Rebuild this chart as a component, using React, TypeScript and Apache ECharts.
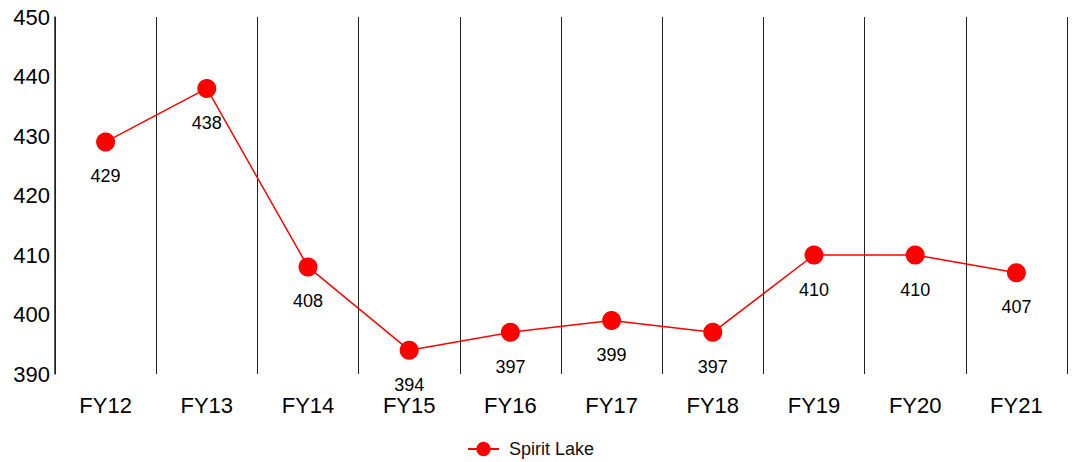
import React, { useEffect, useRef } from "react";
import * as echarts from "echarts";

const categories = ["FY12", "FY13", "FY14", "FY15", "FY16", "FY17", "FY18", "FY19", "FY20", "FY21"];
const spiritLake = [429, 438, 408, 394, 397, 399, 397, 410, 410, 407];
const seriesName = "Spirit Lake";

export default function App() {
  const ref = useRef<HTMLDivElement>(null);
  useEffect(() => {
    if (!ref.current) return;
    const chart = echarts.init(ref.current, null, { renderer: "svg" });
    chart.setOption({
      animation: false,
      textStyle: { fontFamily: "Liberation Sans, Arial, sans-serif" },
      grid: { left: 55, right: 6, top: 17, bottom: 88, containLabel: false },
      legend: {
        top: 435,
        left: 462,
        itemWidth: 31,
        itemHeight: 18,
        textStyle: { fontSize: 18, color: "#111", padding: [0, 0, 0, 5] },
        data: [seriesName],
      },
      xAxis: {
        type: "category",
        data: categories,
        boundaryGap: true,
        axisLine: { show: false },
        axisTick: { show: false },
        axisLabel: { fontSize: 22, color: "#000", margin: 20 },
        splitLine: { show: true, lineStyle: { color: "#222", width: 1 } },
      },
      yAxis: {
        type: "value",
        min: 390,
        max: 450,
        interval: 10,
        axisLine: { show: true, lineStyle: { color: "#222", width: 1.5 } },
        axisTick: { show: false },
        axisLabel: { fontSize: 22, color: "#000", margin: 5 },
        splitLine: { show: false },
      },
      series: [
        {
          name: seriesName,
          type: "line",
          data: spiritLake,
          symbol: "circle",
          symbolSize: 19,
          itemStyle: { color: "#ff0000" },
          lineStyle: { color: "#ff0000", width: 1.5 },
          label: {
            show: true,
            position: "bottom",
            distance: 16,
            fontSize: 18,
            color: "#000",
          },
        },
      ],
    });
    return () => chart.dispose();
  }, []);
  return <div ref={ref} style={{ width: 1073, height: 462, position: "absolute", left: 0, top: 0 }} />;
}
